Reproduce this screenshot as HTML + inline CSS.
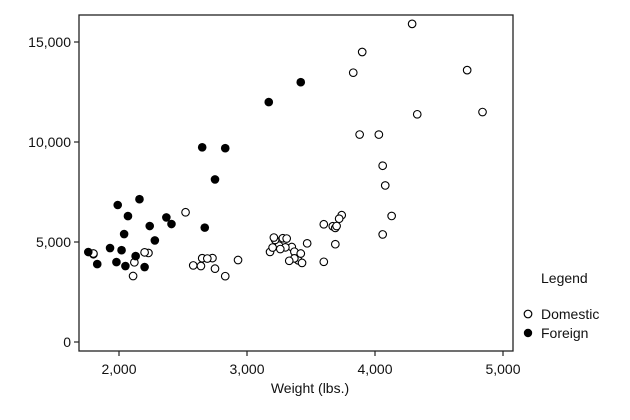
<!DOCTYPE html>
<html><head><meta charset="utf-8"><style>
body{margin:0;background:#fff;}
svg{display:block;font-family:"Liberation Sans",Arial,sans-serif;}
</style></head><body>
<svg id="chart" width="630" height="420" viewBox="0 0 630 420">
<rect x="0" y="0" width="630" height="420" fill="#fff"/>
<g id="axes"></g>
<g id="pts"></g>
<rect x="79" y="15" width="434" height="336" fill="none" stroke="#222" stroke-width="1.3"/>
<text x="310" y="393" font-size="14" text-anchor="middle" fill="#111">Weight (lbs.)</text>
<g>
<text x="541" y="283" font-size="14" fill="#111">Legend</text>
<circle cx="528" cy="314" r="3.8" fill="#fff" stroke="#000" stroke-width="1.2"/>
<text x="541" y="319" font-size="14" fill="#111">Domestic</text>
<circle cx="528" cy="333" r="4.2" fill="#000"/>
<text x="541" y="338" font-size="14" fill="#111">Foreign</text>
</g>
</svg>
<script>
const xTicks=[2000,3000,4000,5000];
const yTicks=[0,5000,10000,15000];
const domWeight=[2930,3350,2640,3250,4080,3670,2230,3280,3880,3400,4330,3900,4290,2110,3690,3180,3220,2750,3430,2120,3600,3600,3740,1800,2650,4840,4720,3830,2580,4060,3720,3370,4130,2830,4060,3310,3300,3690,3370,2730,4030,3260,1800,2200,2520,3330,3700,3470,3210,3200,3420,2690];
const domPrice=[4099,4749,3799,4816,7827,5788,4453,5189,10372,4082,11385,14500,15906,3299,5705,4504,5104,3667,3955,3984,4010,5886,6342,4389,4187,11497,13594,13466,3829,5379,6165,4516,6303,3291,8814,5172,4733,4890,4181,4195,10371,4647,4425,4482,6486,4060,5798,4934,5222,4723,4424,4172];
const forWeight=[2830,2070,2650,2370,2020,2280,2750,2130,2240,1760,1980,3420,1830,2050,2410,2200,2670,1930,2040,2160,1990,3170];
const forPrice=[9690,6295,9735,6229,4589,5079,8129,4296,5799,4499,3995,12990,3895,3798,5899,3748,5719,4697,5397,7140,6850,11995];
const NS='http://www.w3.org/2000/svg';
const xs=v=>119+(v-2000)*0.128;
const ys=v=>342-v*0.02;
const fmt=v=>v.toLocaleString('en-US');
const axes=document.getElementById('axes');
function mk(tag,attrs,parent){const e=document.createElementNS(NS,tag);for(const k in attrs)e.setAttribute(k,attrs[k]);parent.appendChild(e);return e;}
xTicks.forEach(t=>{
  const l=mk('line',{x1:xs(t),x2:xs(t),y1:351,y2:356,stroke:'#222','stroke-width':1.2},axes);
  
  
  const tx=mk('text',{x:xs(t),y:374,'font-size':14,'text-anchor':'middle',fill:'#111'},axes);
  tx.textContent=fmt(t);
  
  
});
yTicks.forEach(t=>{
  const l=mk('line',{x1:74,x2:79,y1:ys(t),y2:ys(t),stroke:'#222','stroke-width':1.2},axes);
  
  
  const tx=mk('text',{x:71,y:ys(t)+5,'font-size':14,'text-anchor':'end',fill:'#111'},axes);
  tx.textContent=fmt(t);
  
  
});
const pts=document.getElementById('pts');
domWeight.forEach((w,i)=>{
  const c=mk('circle',{cx:xs(w),cy:ys(domPrice[i]),r:3.8,fill:'#fff',stroke:'#000','stroke-width':1.1},pts);
  
  
});
forWeight.forEach((w,i)=>{
  const c=mk('circle',{cx:xs(w),cy:ys(forPrice[i]),r:4.3,fill:'#000'},pts);
  
  
});
</script>
</body></html>
